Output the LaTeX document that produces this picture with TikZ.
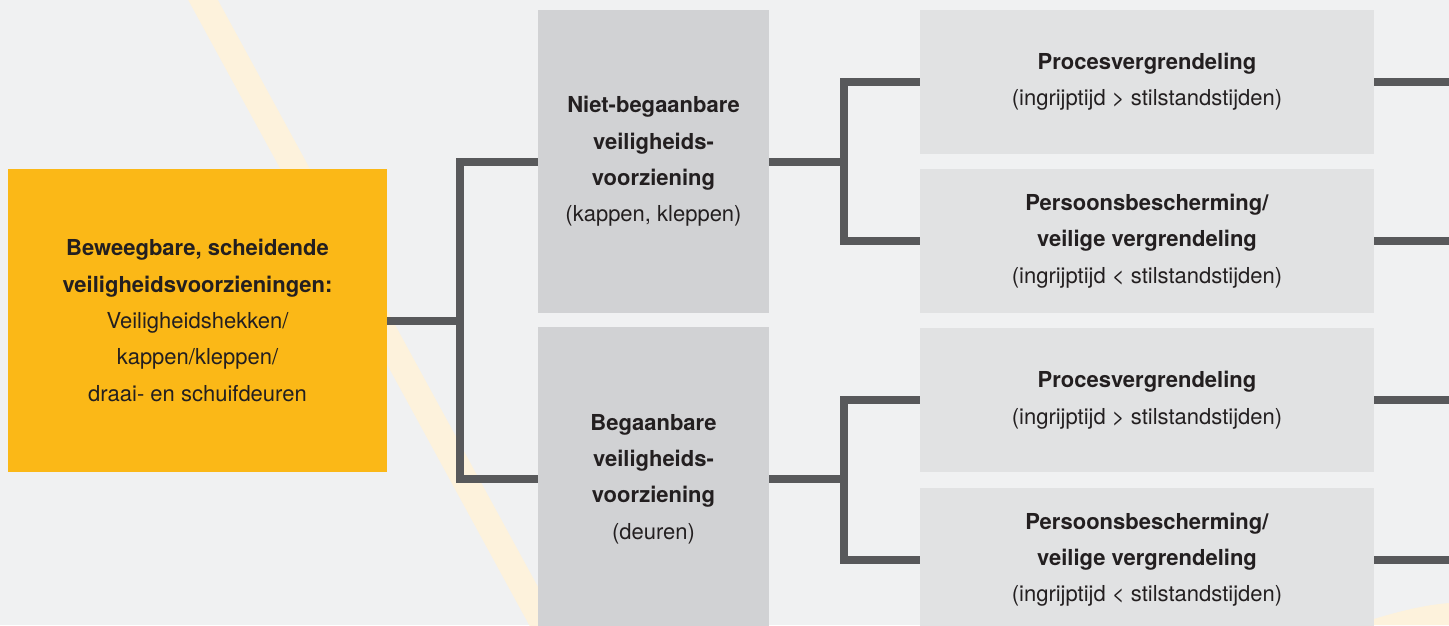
\documentclass[tikz,border=0pt]{standalone}
\usepackage{fontspec}
\setmainfont{TeX Gyre Heros}
\usepackage{tikz}
\usetikzlibrary{positioning}
\definecolor{achtergrond}{HTML}{F0F1F2}
\definecolor{room}{HTML}{FDF2DC}
\definecolor{geel}{HTML}{FBB817}
\definecolor{grijsdonker}{HTML}{D1D2D4}
\definecolor{grijslicht}{HTML}{E1E2E3}
\definecolor{lijngrijs}{HTML}{58595B}
\definecolor{tekst}{HTML}{231F20}
\tikzstyle{verbinding} = [line width=8pt, draw=lijngrijs]
\tikzset{blok/.style={rectangle, inner sep=0pt, align=center, text=tekst,
    font=\fontsize{22}{36.3}\selectfont},
  hoofdblok/.style={blok, fill=geel, minimum width=379pt, minimum height=303pt},
  soortblok/.style={blok, fill=grijsdonker, minimum width=231pt, minimum height=303pt},
  vergrendelblok/.style={blok, fill=grijslicht, minimum width=454pt, minimum height=144pt}}

\begin{document}
\begin{tikzpicture}[x=1pt,y=-1pt]
        % Background with the faint stripe
        \clip (0,0) rectangle (1449,625);
        \fill[achtergrond] (0,0) rectangle (1449,625);
        \draw[room, line width=26pt] (189.4,-25) -- (557.6,650);
        \fill[room] (1374,625) -- (1374,619) .. controls (1400,611) and (1425,605) .. (1449,603) -- (1449,625) -- cycle;

        % Main box
        \node[hoofdblok] (geel) at (197.5,320.5) {\textbf{Beweegbare, scheidende}\\\textbf{veiligheidsvoorzieningen:}\\Veiligheidshekken/\\kappen/kleppen/\\draai- en schuifdeuren};

        % Two kinds of guards
        \node[soortblok] (niet) at (653.5,161.5) {\textbf{Niet-begaanbare}\\\textbf{veiligheids-}\\\textbf{voorziening}\\(kappen, kleppen)};
        \node[soortblok, below=14pt of niet] (beg) {\textbf{Begaanbare}\\\textbf{veiligheids-}\\\textbf{voorziening}\\(deuren)};

        % Interlocking boxes
        \node[vergrendelblok] (proc1) at (1147,81.5) {\textbf{Procesvergrendeling}\\(ingrijptijd \textgreater{} stilstandstijden)};
        \node[vergrendelblok, below=15pt of proc1] (pers1) {\textbf{Persoonsbescherming/}\\\textbf{veilige vergrendeling}\\(ingrijptijd \textless{} stilstandstijden)};
        \node[vergrendelblok, below=15pt of pers1] (proc2) {\textbf{Procesvergrendeling}\\(ingrijptijd \textgreater{} stilstandstijden)};
        \node[vergrendelblok, below=15pt of proc2] (pers2) {\textbf{Persoonsbescherming/}\\\textbf{veilige vergrendeling}\\(ingrijptijd \textless{} stilstandstijden)};

        % Connectors
        \coordinate[right=73pt of geel.east] (splits1);
        \coordinate[right=75pt of niet.east] (splits2);
        \coordinate[right=75pt of beg.east] (splits3);
        \coordinate (rand) at (1460,0);

        \draw[verbinding] (geel.east) -- (splits1);
        \draw[verbinding] (niet.west) -| (splits1) |- (beg.west);

        \draw[verbinding] (niet.east) -- (splits2);
        \draw[verbinding] (proc1.west) -| (splits2) |- (pers1.west);
        \draw[verbinding] (beg.east) -- (splits3);
        \draw[verbinding] (proc2.west) -| (splits3) |- (pers2.west);

        \draw[verbinding] (proc1.east) -- (proc1.east -| rand);
        \draw[verbinding] (pers1.east) -- (pers1.east -| rand);
        \draw[verbinding] (proc2.east) -- (proc2.east -| rand);
        \draw[verbinding] (pers2.east) -- (pers2.east -| rand);
    \end{tikzpicture}
\end{document}
